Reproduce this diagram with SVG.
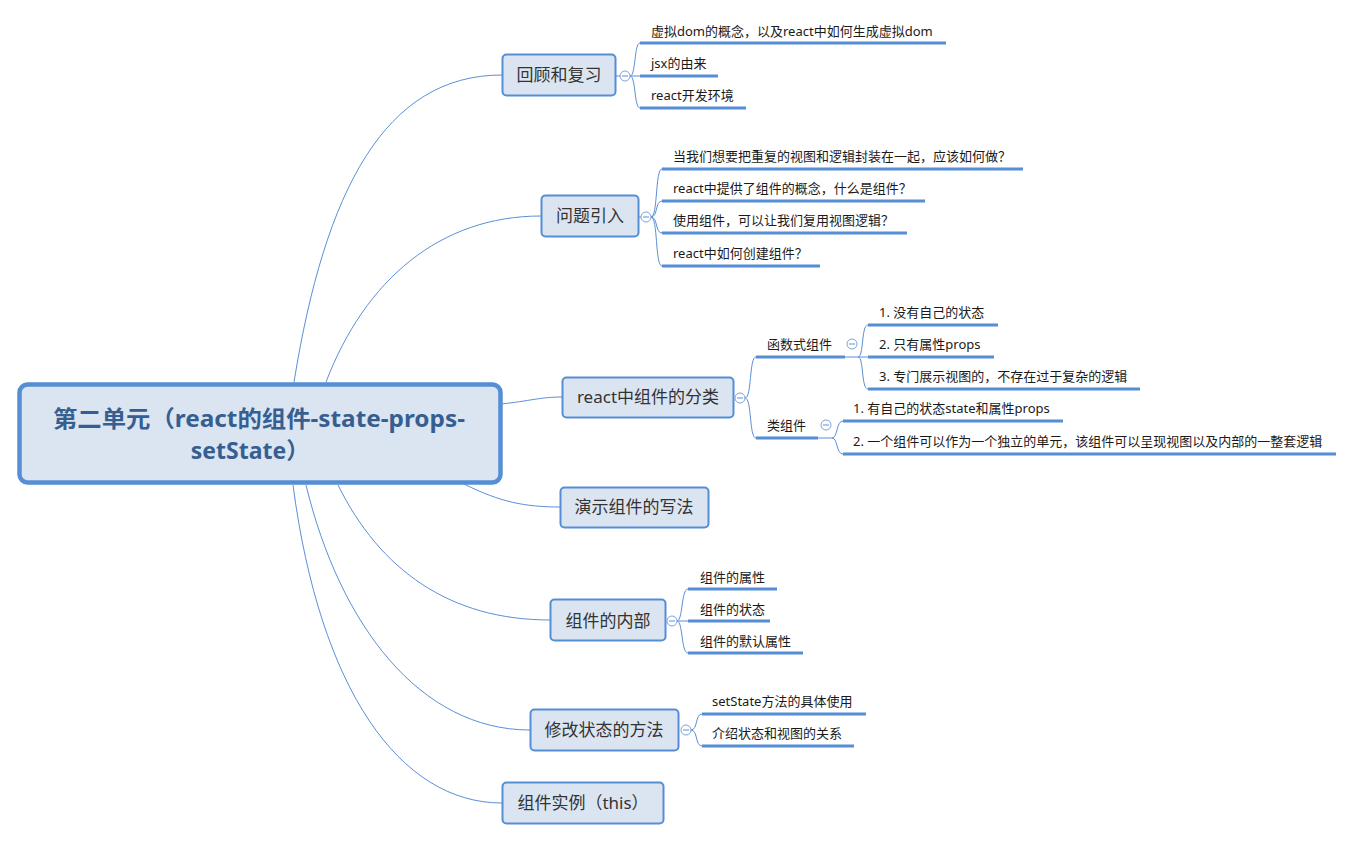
<svg xmlns="http://www.w3.org/2000/svg" width="1353" height="841" viewBox="0 0 1353 841">
<style>
.bg{fill:#ffffff}
.conn{fill:none;stroke:#5b8fd6;stroke-width:1}
.box{fill:#dbe5f1;stroke:#558ed5;stroke-width:2}
.root{fill:#dbe5f1;stroke:#558ed5;stroke-width:4.5}
.rt{font-family:"Noto Sans","Noto Sans CJK SC",sans-serif;font-size:23px;font-weight:bold;fill:#365f91;text-anchor:middle}
.nt{font-family:"Noto Sans","Noto Sans CJK SC",sans-serif;font-size:17px;fill:#333333;text-anchor:middle}
.ct{font-family:"Noto Sans","Noto Sans CJK SC",sans-serif;font-size:13px;fill:#1a1a1a}
.ul{fill:none;stroke:#558ed5;stroke-width:3}
.br{fill:none;stroke:#5b8fd6;stroke-width:1}
.tog{fill:#ffffff;stroke:#7ba3dc;stroke-width:1}
</style>
<rect class="bg" x="0" y="0" width="1353" height="841"/>
<g id="connectors">
<path class="conn" d="M294,382 C325,190 385,75 502,75"/>
<path class="conn" d="M326,382 C365,280 440,216 541,216"/>
<path class="conn" d="M501,404 C530,401 540,397 562,397"/>
<path class="conn" d="M464,484 C500,502 525,507 560,507"/>
<path class="conn" d="M338,485 C380,570 450,620 550,620"/>
<path class="conn" d="M306,485 C340,625 420,730 530,730"/>
<path class="conn" d="M293,485 C320,690 400,803 502,803"/>
</g>
<g id="root">
<rect class="root" x="19.5" y="384.5" width="481" height="98" rx="8"/>
<text class="rt" x="259" y="427" textLength="412" lengthAdjust="spacingAndGlyphs">第二单元（react的组件-state-props-</text>
<text class="rt" x="250" y="459">setState）</text>
</g>
<g id="n1">
<rect class="box" x="502.5" y="54.5" width="113" height="41" rx="4"/>
<text class="nt" x="559" y="81">回顾和复习</text>
<line class="br" x1="616" y1="76" x2="620" y2="76"/>
<path class="br" d="M630,76 C636,76 634,43 640,43 M630,76 L640,76 M630,76 C636,76 634,108 640,108"/>
<circle class="tog" cx="625" cy="76" r="5"/>
<line class="br" x1="622" y1="76" x2="628" y2="76"/>
<line class="ul" x1="640" y1="43" x2="946" y2="43"/>
<line class="ul" x1="640" y1="76" x2="718" y2="76"/>
<line class="ul" x1="640" y1="108" x2="746" y2="108"/>
<text class="ct" x="651" y="36">虚拟dom的概念，以及react中如何生成虚拟dom</text>
<text class="ct" x="651" y="68">jsx的由来</text>
<text class="ct" x="651" y="100">react开发环境</text>
</g>
<g id="n2">
<rect class="box" x="541.5" y="195.5" width="97" height="41" rx="4"/>
<text class="nt" x="590" y="222">问题引入</text>
<line class="br" x1="639" y1="217" x2="641" y2="217"/>
<path class="br" d="M651,217 C658,217 655,169 662,169 M651,217 C658,217 655,201 662,201 M651,217 C658,217 655,233 662,233 M651,217 C658,217 655,266 662,266"/>
<circle class="tog" cx="646" cy="217" r="5"/>
<line class="br" x1="643" y1="217" x2="649" y2="217"/>
<line class="ul" x1="662" y1="169" x2="1023" y2="169"/>
<line class="ul" x1="662" y1="201" x2="925" y2="201"/>
<line class="ul" x1="662" y1="233" x2="907" y2="233"/>
<line class="ul" x1="662" y1="266" x2="820" y2="266"/>
<text class="ct" x="673" y="161">当我们想要把重复的视图和逻辑封装在一起，应该如何做？</text>
<text class="ct" x="673" y="193">react中提供了组件的概念，什么是组件？</text>
<text class="ct" x="673" y="225">使用组件，可以让我们复用视图逻辑？</text>
<text class="ct" x="673" y="258">react中如何创建组件？</text>
</g>
<g id="n3">
<rect class="box" x="562.5" y="377.5" width="171" height="40" rx="4"/>
<text class="nt" x="648" y="403">react中组件的分类</text>
<path class="br" d="M745,398 C752,398 749,357 756,357 M745,398 C752,398 749,438 756,438"/>
<circle class="tog" cx="740" cy="398" r="5"/>
<line class="br" x1="737" y1="398" x2="743" y2="398"/>
<line class="ul" x1="756" y1="357" x2="845" y2="357"/>
<line class="ul" x1="756" y1="438" x2="818" y2="438"/>
<text class="ct" x="767" y="349">函数式组件</text>
<text class="ct" x="767" y="430">类组件</text>
</g>
<g id="n3a">
<path class="br" d="M845,357 L858,357 C864,357 861,325 868,325 M858,357 L868,357 M858,357 C864,357 861,389 868,389"/>
<circle class="tog" cx="852" cy="344" r="5"/>
<line class="br" x1="849" y1="344" x2="855" y2="344"/>
<line class="ul" x1="868" y1="325" x2="998" y2="325"/>
<line class="ul" x1="868" y1="357" x2="994" y2="357"/>
<line class="ul" x1="868" y1="389" x2="1140" y2="389"/>
<text class="ct" x="879" y="317">1. 没有自己的状态</text>
<text class="ct" x="879" y="349">2. 只有属性props</text>
<text class="ct" x="879" y="381">3. 专门展示视图的，不存在过于复杂的逻辑</text>
</g>
<g id="n3b">
<path class="br" d="M818,438 L832,438 C838,438 836,421 843,421 M832,438 C838,438 836,454 843,454"/>
<circle class="tog" cx="826" cy="425" r="5"/>
<line class="br" x1="823" y1="425" x2="829" y2="425"/>
<line class="ul" x1="843" y1="421" x2="1063" y2="421"/>
<line class="ul" x1="843" y1="454" x2="1336" y2="454"/>
<text class="ct" x="853" y="413">1. 有自己的状态state和属性props</text>
<text class="ct" x="853" y="446">2. 一个组件可以作为一个独立的单元，该组件可以呈现视图以及内部的一整套逻辑</text>
</g>
<g id="n4">
<rect class="box" x="560.5" y="487.5" width="148" height="40" rx="4"/>
<text class="nt" x="634" y="513">演示组件的写法</text>
</g>
<g id="n5">
<rect class="box" x="550.5" y="599.5" width="115" height="41" rx="4"/>
<text class="nt" x="608" y="627">组件的内部</text>
<path class="br" d="M677,621 C683,621 681,589 688,589 M677,621 L688,621 M677,621 C683,621 681,653 688,653"/>
<circle class="tog" cx="672" cy="621" r="5"/>
<line class="br" x1="669" y1="621" x2="675" y2="621"/>
<line class="ul" x1="688" y1="589" x2="777" y2="589"/>
<line class="ul" x1="688" y1="621" x2="770" y2="621"/>
<line class="ul" x1="688" y1="653" x2="803" y2="653"/>
<text class="ct" x="700" y="582">组件的属性</text>
<text class="ct" x="700" y="614">组件的状态</text>
<text class="ct" x="700" y="646">组件的默认属性</text>
</g>
<g id="n6">
<rect class="box" x="530.5" y="709.5" width="148" height="41" rx="4"/>
<text class="nt" x="604" y="736">修改状态的方法</text>
<path class="br" d="M691,730 C698,730 695,714 702,714 M691,730 C698,730 695,746 702,746"/>
<circle class="tog" cx="686" cy="730" r="5"/>
<line class="br" x1="683" y1="730" x2="689" y2="730"/>
<line class="ul" x1="702" y1="714" x2="866" y2="714"/>
<line class="ul" x1="702" y1="746" x2="854" y2="746"/>
<text class="ct" x="712" y="706">setState方法的具体使用</text>
<text class="ct" x="712" y="738">介绍状态和视图的关系</text>
</g>
<g id="n7">
<rect class="box" x="502.5" y="782.5" width="161" height="41" rx="4"/>
<text class="nt" x="583" y="809">组件实例（this）</text>
</g>
</svg>
